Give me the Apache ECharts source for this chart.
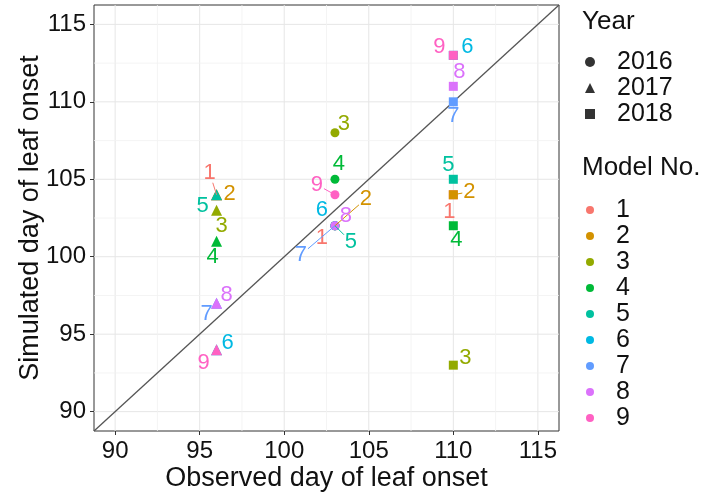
<!DOCTYPE html>
<html>
<head>
<meta charset="utf-8">
<script src="https://cdn.jsdelivr.net/npm/echarts@6/dist/echarts.min.js"></script>
<style>html,body{margin:0;padding:0;background:#fff}#c{width:707px;height:498px}</style>
</head>
<body>
<div id="c"></div>
<script>
// ---- data ----
const models = ['1','2','3','4','5','6','7','8','9'];
const years = ['2016','2017','2018'];
const observedDay = [103, 96, 110];
const simulated2016 = [102, 102, 108, 105, 102, 102, 102, 102, 104];
const simulated2017 = [104, 104, 103, 101, 104, 94, 97, 97, 94];
const simulated2018 = [104, 104, 93, 102, 105, 113, 110, 111, 113];
const axisTicks = [90, 95, 100, 105, 110, 115];
const minorTicks = [92.5, 97.5, 102.5, 107.5, 112.5];

// ---- style / layout ----
const simulated = [simulated2016, simulated2017, simulated2018];
const modelColors = ['#F8766D','#D39200','#93AA00','#00BA38','#00C19F','#00B9E3','#619CFF','#DB72FB','#FF61C3'];
const yearSymbols = ['circle', 'triangle', 'rect'];
const yearSymbolSizes = [9, 11, 9];
const AX_MIN = 88.75, AX_MAX = 116.25;
// label offsets in pixels [dx, dy, drawSegment] per year, per model
const labelLayout = [
  [[-13,12,0],[31,-27,1],[9,-9,0],[4,-15,0],[16,16,1],[-13,-16,0],[-34,29,1],[11,-10,0],[-18,-10,1]],
  [[-7,-22,1],[13,-1,0],[5,16,0],[-4,16,0],[-14,11,0],[11,-7,0],[-10,11,0],[10,-8,0],[-13,13,0]],
  [[-4,17,0],[16,-3,1],[12,-7,0],[3,14,0],[-5,-14,0],[14,-8,0],[0,14,0],[6,-14,0],[-14,-8,0]]
];
const FONT = '"Liberation Sans", Arial, sans-serif';

const series = [];

// grid lines (background)
const gridData = axisTicks.map(v => [v, 1]).concat(minorTicks.map(v => [v, 0]));
series.push({
  type: 'custom', silent: true, z: 0,
  data: gridData,
  renderItem: function (params, api) {
    const v = api.value(0), major = api.value(1);
    const cs = params.coordSys;
    const px = api.coord([v, AX_MIN])[0];
    const py = api.coord([AX_MIN, v])[1];
    const st = { stroke: major ? '#e6e6e6' : '#f1f1f1', lineWidth: major ? 1 : 0.8 };
    return { type: 'group', children: [
      { type: 'line', shape: { x1: px, y1: cs.y, x2: px, y2: cs.y + cs.height }, style: st },
      { type: 'line', shape: { x1: cs.x, y1: py, x2: cs.x + cs.width, y2: py }, style: st }
    ]};
  }
});

// 1:1 line
series.push({
  type: 'line', silent: true, z: 1, symbol: 'none',
  data: [[AX_MIN, AX_MIN], [AX_MAX, AX_MAX]],
  lineStyle: { color: '#555', width: 1.3 }
});

// year legend dummies
years.forEach((y, j) => {
  series.push({
    type: 'scatter', name: y, data: [], symbol: yearSymbols[j],
    itemStyle: { color: '#000' }
  });
});

// model point series
models.forEach((m, i) => {
  series.push({
    type: 'scatter', name: m, z: 2, symbol: 'circle',
    itemStyle: { color: modelColors[i], opacity: 1 },
    data: years.map((y, j) => ({
      value: [observedDay[j], simulated[j][i]],
      symbol: yearSymbols[j], symbolSize: yearSymbolSizes[j]
    }))
  });
});

// text labels
const labelData = [];
years.forEach((y, j) => {
  models.forEach((m, i) => {
    const L = labelLayout[j][i];
    labelData.push([observedDay[j], simulated[j][i], i, L[0], L[1], L[2]]);
  });
});
series.push({
  type: 'custom', silent: true, z: 5,
  data: labelData,
  renderItem: function (params, api) {
    const p = api.coord([api.value(0), api.value(1)]);
    const mi = api.value(2), dx = api.value(3), dy = api.value(4), seg = api.value(5);
    const col = modelColors[mi];
    const children = [{
      type: 'text',
      style: { x: p[0] + dx, y: p[1] + dy, text: models[mi], fill: col,
        font: '22px ' + FONT, align: 'center', verticalAlign: 'middle' }
    }];
    if (seg) {
      const hw = 7, hh = 10;
      const s = 1 - Math.min(dx ? hw / Math.abs(dx) : 1, dy ? hh / Math.abs(dy) : 1);
      children.push({ type: 'line',
        shape: { x1: p[0], y1: p[1], x2: p[0] + dx * s, y2: p[1] + dy * s },
        style: { stroke: col, lineWidth: 1 } });
    }
    return { type: 'group', children: children };
  }
});

const axisCommon = {
  type: 'value', min: AX_MIN, max: AX_MAX,
  nameLocation: 'middle', nameMoveOverlap: false,
  nameTextStyle: { fontSize: 27, color: '#111', fontFamily: FONT },
  axisLine: { show: false },
  axisTick: { show: true, customValues: axisTicks, length: 4, lineStyle: { color: '#333' } },
  axisLabel: { customValues: axisTicks, fontSize: 24, color: '#111', fontFamily: FONT, margin: 8 },
  splitLine: { show: false }
};

const legendText = { fontSize: 25, lineHeight: 26, color: '#111', fontFamily: FONT, padding: [0, 0, 0, 17] };

const chart = echarts.init(document.getElementById('c'), null, { renderer: 'canvas' });
chart.setOption({
  backgroundColor: '#fff',
  animation: false,
  grid: { left: 94, right: 148, top: 5, bottom: 67, outerBoundsMode: 'none', containLabel: false,
    show: true, borderColor: '#333', borderWidth: 1, backgroundColor: '#fff' },
  xAxis: Object.assign({}, axisCommon, { name: 'Observed day of leaf onset', nameGap: 34 }),
  yAxis: Object.assign({}, axisCommon, { name: 'Simulated day of leaf onset', nameGap: 50 }),
  title: [
    { text: 'Year', left: 582, top: 9, padding: 0, textStyle: { fontSize: 26, fontWeight: 'normal', color: '#111', fontFamily: FONT } },
    { text: 'Model No.', left: 582, top: 155, padding: 0, textStyle: { fontSize: 26, fontWeight: 'normal', color: '#111', fontFamily: FONT } }
  ],
  legend: [
    { data: years, orient: 'vertical', left: 585, top: 49, padding: 0, itemGap: 0,
      itemWidth: 10, itemHeight: 10, selectedMode: false, textStyle: legendText },
    { data: models, orient: 'vertical', left: 586, top: 197, padding: 0, itemGap: 0,
      itemWidth: 8, itemHeight: 8, selectedMode: false, textStyle: legendText }
  ],
  series: series
});
</script>
</body>
</html>
